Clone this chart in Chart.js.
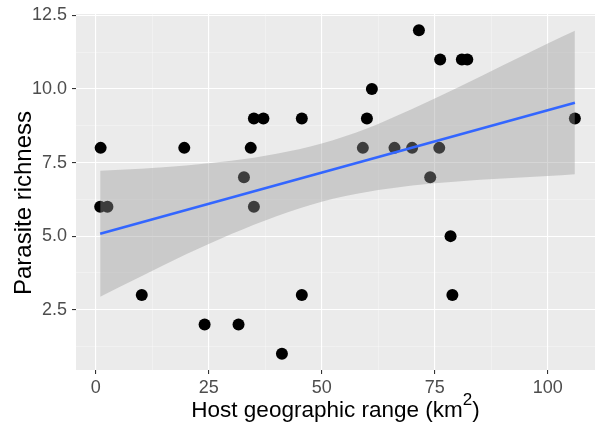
<!DOCTYPE html>
<html>
<head>
<meta charset="utf-8">
<script src="https://cdn.jsdelivr.net/npm/chart.js@4"></script>
<style>
  html, body { margin: 0; padding: 0; background: #fff; }
  canvas { display: block; }
</style>
</head>
<body>
<canvas id="scatterChart" width="595" height="423"></canvas>
<script>
// host geographic range (km^2) and parasite richness
const hostRange = [1.1, 1.0, 2.6, 10.2, 19.6, 24.1, 31.6, 32.8, 34.3, 35.0, 35.0, 37.1, 41.2, 45.6, 45.6,
  59.1, 60.0, 61.1, 66.1, 70.0, 71.5, 74.0, 76.0, 76.2, 78.5, 78.9, 81.0, 82.2, 106.0];
const richness = [8, 6, 6, 3, 8, 2, 2, 7, 8, 6, 9, 9, 1, 9, 3,
  8, 9, 10, 8, 8, 12, 7, 8, 11, 5, 3, 11, 11, 9];

// lm fit line + 95% band
const fitX = [1, 106];
const fitY = [5.08, 9.53];
const bandX = [1, 10, 20, 30, 40, 50, 60, 70, 80, 90, 100, 106];
const bandUpper = [7.22, 7.29, 7.40, 7.56, 7.80, 8.15, 8.66, 9.32, 10.04, 10.80, 11.55, 11.98];
const bandLower = [2.94, 3.63, 4.38, 5.07, 5.68, 6.17, 6.50, 6.72, 6.86, 6.96, 7.04, 7.10];

// axis ticks
const xMajor = [0, 25, 50, 75, 100];
const xMinor = [12.5, 37.5, 62.5, 87.5];
const yMajor = [2.5, 5.0, 7.5, 10.0, 12.5];
const yMinor = [1.25, 3.75, 6.25, 8.75, 11.25];

const FONT = "'Liberation Sans', Arial, Helvetica, sans-serif";

function toPoints(xs, ys) {
  return xs.map((x, i) => ({ x: x, y: ys[i] }));
}

// grey panel behind the plot + axis titles
const ggPanel = {
  id: "ggPanel",
  beforeDraw(chart) {
    const { ctx, chartArea: a } = chart;
    ctx.save();
    ctx.fillStyle = "#EBEBEB";
    ctx.fillRect(a.left, a.top, a.right - a.left, a.bottom - a.top);
    ctx.restore();
  },
  afterDraw(chart) {
    const ctx = chart.ctx;
    ctx.save();
    ctx.fillStyle = "#000";
    ctx.textBaseline = "alphabetic";
    // x title with superscript 2
    const main = "Host geographic range (km";
    ctx.font = "22.5px " + FONT;
    const w1 = ctx.measureText(main).width;
    const w3 = ctx.measureText(")").width;
    ctx.font = "17px " + FONT;
    const w2 = ctx.measureText("2").width;
    const cx = (chart.chartArea.left + chart.chartArea.right) / 2;
    const x0 = cx - (w1 + w2 + w3) / 2;
    ctx.textAlign = "left";
    ctx.font = "22.5px " + FONT;
    ctx.fillText(main, x0, 417);
    ctx.fillText(")", x0 + w1 + w2, 417);
    ctx.font = "17px " + FONT;
    ctx.fillText("2", x0 + w1, 405);
    // y title
    ctx.font = "24px " + FONT;
    ctx.translate(31, 203);
    ctx.rotate(-Math.PI / 2);
    ctx.textAlign = "center";
    ctx.fillText("Parasite richness", 0, 0);
    ctx.restore();
  },
};

function isMajor(list, v) {
  return list.some((m) => Math.abs(m - v) < 1e-6);
}

const ctx = document.getElementById("scatterChart").getContext("2d");

new Chart(ctx, {
  type: "scatter",
  data: {
    datasets: [
      {
        label: "points",
        data: toPoints(hostRange, richness),
        backgroundColor: "#000000",
        borderWidth: 0,
        pointRadius: 6,
        pointHoverRadius: 6,
        order: 3,
      },
      {
        type: "line",
        label: "upper",
        data: toPoints(bandX, bandUpper),
        borderWidth: 0,
        borderColor: "rgba(0,0,0,0)",
        pointRadius: 0,
        fill: false,
        cubicInterpolationMode: "monotone",
        order: 2,
      },
      {
        type: "line",
        label: "lower",
        data: toPoints(bandX, bandLower),
        borderWidth: 0,
        borderColor: "rgba(0,0,0,0)",
        backgroundColor: "rgba(153,153,153,0.4)",
        pointRadius: 0,
        fill: "-1",
        cubicInterpolationMode: "monotone",
        order: 2,
      },
      {
        type: "line",
        label: "fit",
        data: toPoints(fitX, fitY),
        borderColor: "#3366FF",
        borderWidth: 2.6,
        pointRadius: 0,
        fill: false,
        order: 1,
      },
    ],
  },
  options: {
    responsive: false,
    animation: false,
    devicePixelRatio: 1,
    layout: { autoPadding: false, padding: { top: 14, right: 0, left: 0, bottom: 0 } },
    scales: {
      x: {
        type: "linear",
        min: -4.35,
        max: 110.45,
        afterBuildTicks: (scale) => {
          scale.ticks = xMajor.concat(xMinor).sort((a, b) => a - b).map((v) => ({ value: v }));
        },
        afterFit: (scale) => {
          scale.height = 53;
          scale.paddingLeft = 0;
          scale.paddingRight = 0;
        },
        border: { display: false },
        grid: {
          color: (c) => (isMajor(xMajor, c.tick.value) ? "#FFFFFF" : "rgba(255,255,255,0.55)"),
          lineWidth: (c) => (isMajor(xMajor, c.tick.value) ? 1.1 : 0.6),
          tickColor: (c) => (isMajor(xMajor, c.tick.value) ? "#333333" : "rgba(0,0,0,0)"),
          tickLength: 4,
          tickWidth: 1.1,
        },
        ticks: {
          autoSkip: false,
          maxRotation: 0,
          padding: 3,
          color: "#4D4D4D",
          font: { family: FONT, size: 18 },
          callback: (v) => (isMajor(xMajor, v) ? String(v) : ""),
        },
      },
      y: {
        type: "linear",
        min: 0.45,
        max: 12.55,
        afterBuildTicks: (scale) => {
          scale.ticks = yMajor.concat(yMinor).sort((a, b) => a - b).map((v) => ({ value: v }));
        },
        afterFit: (scale) => {
          scale.width = 76;
          scale.paddingTop = 0;
          scale.paddingBottom = 0;
        },
        border: { display: false },
        grid: {
          color: (c) => (isMajor(yMajor, c.tick.value) ? "#FFFFFF" : "rgba(255,255,255,0.55)"),
          lineWidth: (c) => (isMajor(yMajor, c.tick.value) ? 1.1 : 0.6),
          tickColor: (c) => (isMajor(yMajor, c.tick.value) ? "#333333" : "rgba(0,0,0,0)"),
          tickLength: 4,
          tickWidth: 1.1,
        },
        ticks: {
          autoSkip: false,
          padding: 5,
          color: "#4D4D4D",
          font: { family: FONT, size: 18 },
          callback: (v) => (isMajor(yMajor, v) ? v.toFixed(1) : ""),
        },
      },
    },
    plugins: {
      legend: { display: false },
      tooltip: { enabled: false },
    },
  },
  plugins: [ggPanel],
});
</script>
</body>
</html>
